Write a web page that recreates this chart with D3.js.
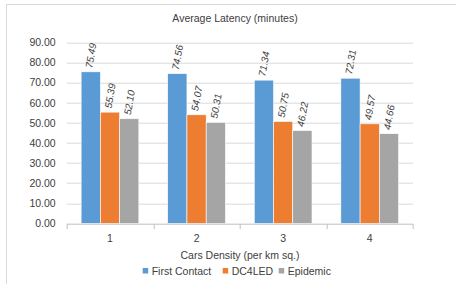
<!DOCTYPE html>
<html lang="en">
<head>
<meta charset="UTF-8">
<title>Average Latency (minutes)</title>
<script src="https://cdnjs.cloudflare.com/ajax/libs/d3/7.8.5/d3.min.js"></script>
<style>
  body { margin: 0; background: #fff; }
  svg { display: block; font-family: 'Liberation Sans', Arial, sans-serif; }
</style>
</head>
<body>
<div id="chart"></div>
<script>
// chart data
const categories = ["1", "2", "3", "4"];
const seriesNames = ["First Contact", "DC4LED", "Epidemic"];
const firstContact = [75.49, 74.56, 71.34, 72.31];
const dc4led = [55.39, 54.07, 50.75, 49.57];
const epidemic = [52.10, 50.31, 46.22, 44.66];
const yTicks = [0, 10, 20, 30, 40, 50, 60, 70, 80, 90];
const colors = ["#5B9BD5", "#ED7D31", "#A5A5A5"];

const W = 456, H = 284;
const margin = { left: 66.7, right: 43, top: 42.7, bottom: 60.7 };
const innerW = W - margin.left - margin.right;
const innerH = H - margin.top - margin.bottom;

const svg = d3.select("#chart").append("svg")
    .attr("width", W)
    .attr("height", H);

// outer chart frame
svg.append("rect")
    .attr("x", 6.5).attr("y", 4.5)
    .attr("width", W).attr("height", H)
    .attr("fill", "none")
    .attr("stroke", "#D9D9D9");

svg.append("text")
    .attr("x", 235).attr("y", 22)
    .attr("text-anchor", "middle")
    .attr("font-size", 10.5)
    .attr("fill", "#404040")
    .text("Average Latency (minutes)");

const g = svg.append("g").attr("transform", `translate(${margin.left},${margin.top})`);

const x = d3.scaleBand().domain(categories).range([0, innerW]);
const xs = d3.scaleBand().domain(seriesNames)
    .range([0, x.bandwidth()])
    .paddingOuter(0.75).paddingInner(0);
const y = d3.scaleLinear().domain([0, 90]).range([innerH, 0]);

// gridlines
g.selectAll(".grid").data(yTicks.slice(1)).join("line")
    .attr("x1", 0).attr("x2", innerW)
    .attr("y1", d => Math.round(y(d)) + 0.5).attr("y2", d => Math.round(y(d)) + 0.5)
    .attr("stroke", "#D9D9D9");

// y labels
g.selectAll(".ylab").data(yTicks).join("text")
    .attr("x", -11).attr("y", d => y(d))
    .attr("dy", "0.35em")
    .attr("text-anchor", "end")
    .attr("font-size", 10.5)
    .attr("fill", "#404040")
    .text(d => d.toFixed(2));

const seriesData = [firstContact, dc4led, epidemic];
const groups = g.selectAll(".series").data(seriesData).join("g")
    .attr("fill", (d, i) => colors[i]);

groups.each(function(vals, si) {
    const sg = d3.select(this);
    sg.selectAll("rect").data(vals).join("rect")
        .attr("x", (d, ci) => x(categories[ci]) + xs(seriesNames[si]))
        .attr("y", d => y(d))
        .attr("width", xs.bandwidth())
        .attr("height", d => innerH - y(d))
        .attr("stroke", "#fff")
        .attr("stroke-width", 0.6);
    sg.selectAll("text").data(vals).join("text")
        .attr("transform", (d, ci) => {
            const cx = x(categories[ci]) + xs(seriesNames[si]) + xs.bandwidth() / 2 - 2;
            return `translate(${cx},${y(d) - 4}) rotate(-80)`;
        })
        .attr("dy", "0.35em")
        .attr("font-size", 10)
        .attr("font-style", "italic")
        .attr("fill", "#404040")
        .text(d => d.toFixed(2));
});

// x axis line and ticks
const axis = g.append("g").attr("transform", `translate(0,${Math.round(innerH) + 0.5})`);
axis.append("line").attr("x1", 0).attr("x2", innerW).attr("stroke", "#BFBFBF");
axis.selectAll(".tick").data(d3.range(categories.length + 1)).join("line")
    .attr("x1", i => Math.round(i * x.step()) + 0.5)
    .attr("x2", i => Math.round(i * x.step()) + 0.5)
    .attr("y1", 0).attr("y2", 5)
    .attr("stroke", "#BFBFBF");
axis.selectAll(".xlab").data(categories).join("text")
    .attr("x", d => x(d) + x.bandwidth() / 2)
    .attr("y", 18)
    .attr("text-anchor", "middle")
    .attr("font-size", 10.5)
    .attr("fill", "#404040")
    .text(d => d);

svg.append("text")
    .attr("x", 240).attr("y", 259)
    .attr("text-anchor", "middle")
    .attr("font-size", 10.5)
    .attr("fill", "#404040")
    .text("Cars Density (per km sq.)");

// legend
const legendX = [142.7, 222.7, 278.7];
const legend = svg.selectAll(".legend").data(seriesNames).join("g")
    .attr("transform", (d, i) => `translate(${legendX[i]},268)`);
legend.append("rect")
    .attr("width", 5.5).attr("height", 5.5)
    .attr("fill", (d, i) => colors[i]);
legend.append("text")
    .attr("x", 9).attr("y", 3)
    .attr("dy", "0.35em")
    .attr("font-size", 10.5)
    .attr("fill", "#404040")
    .text(d => d);
</script>
</body>
</html>
